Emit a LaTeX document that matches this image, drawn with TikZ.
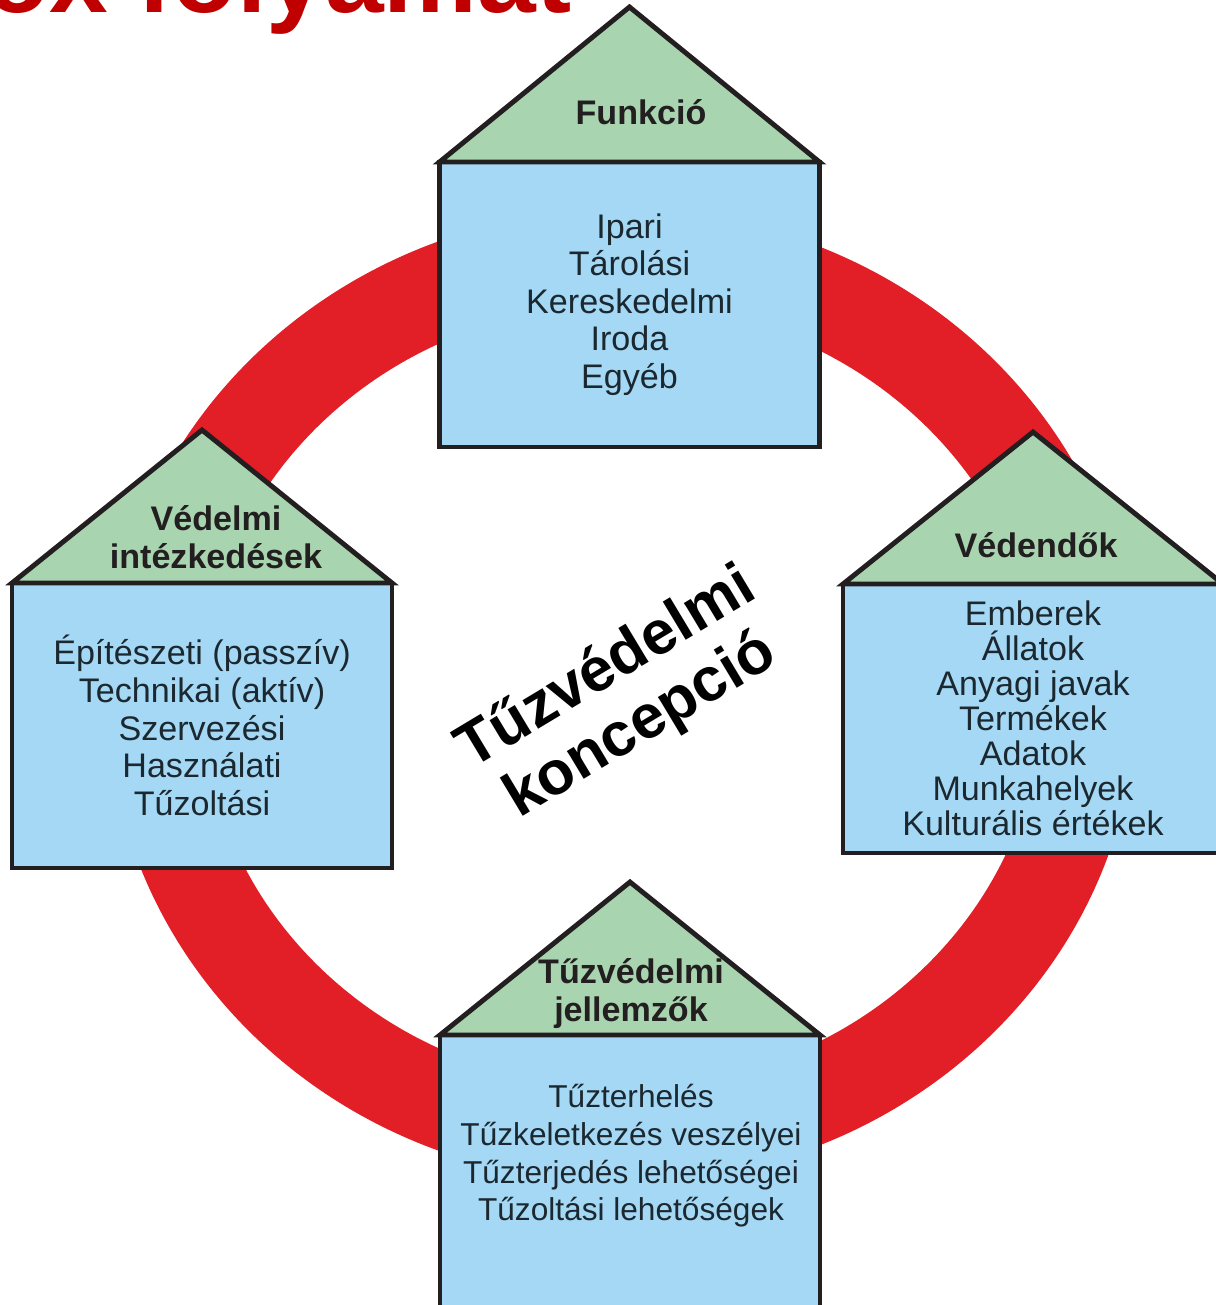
\documentclass[tikz,border=0pt]{standalone}
\usepackage{fontspec}
\setmainfont{Liberation Sans}
\usetikzlibrary{positioning}
\definecolor{ringred}{RGB}{226,30,38}
\definecolor{roofgreen}{RGB}{168,212,176}
\definecolor{boxblue}{RGB}{164,216,244}
\definecolor{edgegray}{RGB}{35,31,32}
\definecolor{textgray}{RGB}{28,40,48}
\definecolor{titlered}{RGB}{192,0,0}
\begin{document}
\begin{tikzpicture}[
    housebox/.style={draw=edgegray, line width=1.4pt, fill=boxblue,
      minimum width=3.8cm, inner sep=0pt, outer sep=0pt, align=center,
      text=textgray, font=\fontsize{9.7}{10.7}\selectfont},
    roof/.style={draw=edgegray, line width=1.4pt, fill=roofgreen, line join=miter},
    rooftext/.style={font=\bfseries\fontsize{9.7}{10.8}\selectfont,
      text=edgegray, align=center, inner sep=0pt},
    bodytext/.style={font=\fontsize{9}{10.7}\selectfont, text=textgray,
      align=center, inner sep=0pt}]
  \useasboundingbox (0,0) rectangle (12.16,-13.05);
  \clip (0,0) rectangle (12.16,-13.05);
  % title cut off at the top
  \node[font=\bfseries\fontsize{30}{30}\selectfont, text=titlered,
    anchor=base east, inner sep=0pt] (title) at (5.72,-0.13) {ox folyamat};
  % red ring behind the houses
  \coordinate (ringc) at (6.22,-6.96);
  \draw[ringred, line width=0.95cm] (ringc) ellipse [x radius=4.67cm, y radius=4.39cm];
  % top house
  \node[housebox, minimum height=2.85cm] (fbox) at (6.295,-3.045)
    {Ipari\\Tárolási\\Kereskedelmi\\Iroda\\Egyéb};
  \coordinate[above=1.55cm of fbox.north] (ftop);
  \draw[roof] (fbox.north west) -- (ftop) -- (fbox.north east) -- cycle;
  \node[rooftext] (froof) at (6.41,-1.12) {Funkció};
  % left house
  \node[housebox, minimum height=2.85cm] (vbox) at (2.02,-7.255)
    {Építészeti (passzív)\\Technikai (aktív)\\Szervezési\\Használati\\Tűzoltási};
  \coordinate[above=1.53cm of vbox.north] (vtop);
  \draw[roof] (vbox.north west) -- (vtop) -- (vbox.north east) -- cycle;
  \node[rooftext] (vroof) at (2.16,-5.37) {Védelmi\\intézkedések};
  % right house
  \node[housebox, minimum height=2.69cm, font=\fontsize{9.7}{9.95}\selectfont]
    (dbox) at (10.33,-7.185)
    {Emberek\\Állatok\\Anyagi javak\\Termékek\\Adatok\\Munkahelyek\\Kulturális értékek};
  \coordinate[above=1.52cm of dbox.north] (dtop);
  \draw[roof] (dbox.north west) -- (dtop) -- (dbox.north east) -- cycle;
  \node[rooftext] (droof) at (10.36,-5.45) {Védendők};
  % bottom house
  \node[housebox, minimum height=3.1cm, anchor=north] (jbox) at (6.30,-10.35) {};
  \coordinate[above=1.53cm of jbox.north] (jtop);
  \draw[roof] (jbox.north west) -- (jtop) -- (jbox.north east) -- cycle;
  \node[rooftext] (jroof) at (6.31,-9.94) {Tűzvédelmi\\jellemzők};
  \node[bodytext] (jtext) at (6.31,-11.56)
    {Tűzterhelés\\Tűzkeletkezés veszélyei\\Tűzterjedés lehetőségei\\Tűzoltási lehetőségek};
  % centre caption
  \node[font=\bfseries\fontsize{17.5}{19}\selectfont, rotate=31, align=center,
    text=black, inner sep=0pt] (concept) at (6.24,-6.98) {Tűzvédelmi\\koncepció};
\end{tikzpicture}
\end{document}
